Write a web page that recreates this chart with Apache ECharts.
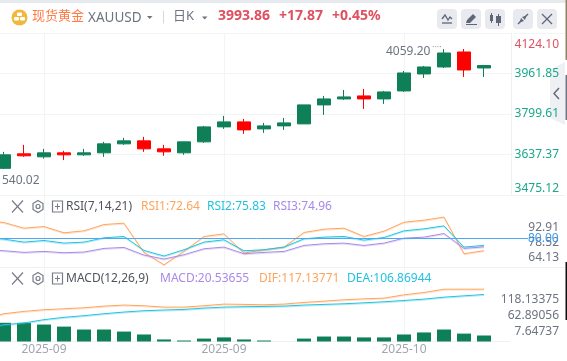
<!DOCTYPE html>
<html><head><meta charset="utf-8">
<style>html,body{margin:0;padding:0;background:#fff;overflow:hidden}#c{width:567px;height:361px}</style>
<script src="https://cdn.jsdelivr.net/npm/echarts@6/dist/echarts.min.js"></script>
</head><body><div id="c"></div>
<script>
// first and last categories are the off-screen bar and the empty right-hand slot
const dates = ['2025-09-03','2025-09-04','2025-09-05','2025-09-08','2025-09-09','2025-09-10','2025-09-11','2025-09-12','2025-09-15','2025-09-16','2025-09-17','2025-09-18','2025-09-19','2025-09-22','2025-09-23','2025-09-24','2025-09-25','2025-09-26','2025-09-29','2025-09-30','2025-10-01','2025-10-02','2025-10-03','2025-10-06','2025-10-07','2025-10-08','2025-10-09'];
const tickIndexes = [3, 12, 21];
// open, close, low, high
const candles = [
 ['-','-','-','-'],
 [3582,3636,3579,3648],[3640,3632,3628,3676],[3628,3644,3621,3660],[3644,3636,3615,3652],[3636,3644,3632,3660],
 [3644,3680,3628,3688],[3680,3692,3676,3704],[3692,3660,3648,3708],[3660,3648,3632,3676],[3644,3688,3636,3688],
 [3688,3748,3684,3752],[3748,3768,3740,3792],[3768,3736,3720,3780],[3740,3752,3724,3764],[3752,3764,3736,3784],
 [3760,3836,3760,3836],[3836,3860,3796,3872],[3860,3868,3856,3896],[3872,3860,3820,3900],[3860,3888,3840,3892],
 [3892,3964,3888,3972],[3960,3988,3944,3992],[3988,4044,3984,4060],[4048,3976,3948,4060],[3984,3994,3948,3996]
];
const rsi1 = [90.8,89.6,86.2,87.2,83.4,84.6,88.4,89.2,71.6,64.13,72.2,81.2,82.8,71.2,73.2,74.8,83.6,85.6,86.2,81.2,84.4,89.8,91,92.91,70.8,72.64];
const rsi2 = [80.5,79.6,77.8,78.8,77.2,77.8,80.4,81.2,72.8,69.4,73.2,77.8,79.2,72.6,73.2,74.8,79.8,80.8,81.2,79,80.6,84.6,85.8,87.6,74.8,75.83];
const rsi3 = [73,72.6,71.6,72.2,71.4,71.8,74,74.6,70,67.6,70.2,73.8,74.8,70.8,71.6,72.2,75.8,76.8,77.2,75.8,77.2,80.2,80.8,83,74,74.96];
const dif = [59.4,69.7,74.2,77.4,79.3,81.2,84.4,86.4,85.1,82.5,82.5,85.1,88.3,87.7,87,88.3,91.5,94,96.6,98.5,99.8,106.2,110.7,117.1,117.1,117.14];
const dea = [42,48.5,51.8,58.2,62.7,65.9,69.7,72.9,75.5,76.8,78,80.6,82.5,83.2,83.8,84.4,86.4,87.7,88.9,90.8,92.8,95.3,97.9,101.7,104.3,106.87];
const macd = ['-',64,64,58,51,41,41,34,24,7,3.4,10,14,7,3.4,0,10,17,17,14,14,24,31,41,27,20.54];
const priceTicks = [3475.12,3637.37,3799.61,3961.85,4124.10];
const rsiTicks = [64.13,78.52,92.91];
const macdTicks = [7.64737,62.89056,118.13375];
const rsiLevel = 80;

const FONT = '"Noto Sans","Noto Sans CJK SC",sans-serif';
const GREEN='#0f7f57', RED='#ff0000', ORANGE='#ffa45c', CYAN='#22c3df', PURPLE='#a98ae8', LINE='#f3f4f6', SEP='#eef0f3', GREY='#6d7380', ICON='#5f6675';

const grids = [
 {left:-26,width:540,top:33,height:162,outerBoundsMode:'none'},
 {left:-26,width:540,top:195,height:72,outerBoundsMode:'none'},
 {left:-26,width:540,top:267,height:74.5,outerBoundsMode:'none'}
];
function xAx(gridIndex,labels){return {
 type:'category',gridIndex,data:dates,boundaryGap:true,
 axisLine:{show:false},axisTick:{show:false},
 axisLabel:{show:labels,interval:(i)=>tickIndexes.includes(i),formatter:v=>v.slice(0,7),color:'#a1a6b3',fontSize:12,fontFamily:FONT,margin:2},
 splitLine:{show:true,alignWithLabel:true,interval:(i)=>tickIndexes.includes(i),lineStyle:{color:LINE,width:1}}
};}
function hiddenY(gridIndex,min,max){return {type:'value',gridIndex,min,max,show:false,position:'right',splitLine:{show:false}};}
function labelY(gridIndex,min,max,ticks,color,extra){return Object.assign({
 type:'value',gridIndex,min,max,position:'right',scale:true,
 axisLine:{show:false},axisTick:{show:false,customValues:ticks},
 axisLabel:{customValues:ticks,align:'right',margin:45,color,fontSize:12,fontFamily:FONT,
   formatter:v=>{const s=ticks.find(t=>Math.abs(t-v)<1e-6);return (ticks===macdTicks)?s.toFixed(5):s.toFixed(2);}},
 splitLine:{show:false}
},extra||{});}

function T(text,x,y,fill,size,weight,align){return {type:'text',z:10,style:{text,x,y,fill,font:(weight||'normal')+' '+size+'px '+FONT,textAlign:align||'left',textVerticalAlign:'middle'}};}
function L(x1,y1,x2,y2,stroke,w,z){return {type:'line',z:z==null?10:z,shape:{x1,y1,x2,y2},style:{stroke,lineWidth:w||1}};}
function R(x,y,width,height,fill,r,z){return {type:'rect',z:z==null?10:z,shape:{x,y,width,height,r:r||0},style:{fill}};}
function PG(points,fill,z){return {type:'polygon',z:z==null?10:z,shape:{points},style:{fill}};}
function PL(points,stroke,w){return {type:'polyline',z:11,shape:{points},style:{stroke,lineWidth:w||1,fill:'none'}};}
function rowIcons(y){const s='#777c88';return [
 L(12,y-6,23,y+6,s,1.2),L(23,y-6,12,y+6,s,1.2),
 {type:'polygon',z:10,shape:{points:[[38,y-6],[43,y-3],[43,y+3],[38,y+6],[33,y+3],[33,y-3]]},style:{stroke:s,fill:'none',lineWidth:1.2}},
 {type:'circle',z:10,shape:{cx:38,cy:y,r:2},style:{stroke:s,fill:'none',lineWidth:1.2}},
 {type:'rect',z:10,shape:{x:52.5,y:y-5.5,width:10,height:11},style:{stroke:s,fill:'none',lineWidth:1.2}},
 L(55,y,60,y,s,1),L(57.5,y-3,57.5,y+3,s,1)
];}
const gfx = [
 R(0,0,567,3,'#e6e9ee'),
 L(0,33.5,565,33.5,LINE,1,0),
 L(0,195.5,565,195.5,SEP,1,0),L(0,267.5,565,267.5,SEP,1,0),L(0,341.5,510,341.5,SEP,1,0),
 R(511.5,33,3,162,'#ffffff',0,1),
 L(511.5,33,511.5,195,SEP,1,1),
 L(514,238.5,528,238.5,'#4aa8f5',1,3),
 // header
 {type:'circle',z:10,shape:{cx:19.5,cy:17.5,r:8},style:{fill:'#f0b93c'}},
 R(17,12.5,5,3.5,'#fff',1),R(14,17,5,3.5,'#fff',1),R(20,17,5,3.5,'#fff',1),
 T('现货黄金',32,16.5,'#ff7a45',13),
 T('XAUUSD',88,18,GREY,13.5),
 PG([[147,16],[152.5,16],[149.7,19]],GREY),
 L(163.5,11,163.5,23.5,'#d5d8de'),
 T('日K',173,16,GREY,13),
 PG([[202,16.5],[207.5,16.5],[204.7,19.5]],GREY),
 T('3993.86',218,16.5,'#df5060',14,'bold'),
 T('+17.87',279,16.5,'#df5060',14,'bold'),
 T('+0.45%',332,16.5,'#df5060',14,'bold'),
 // toolbar
 R(437,9,20,20,'#e8eaf0',4),R(461,9,20,20,'#e8eaf0',4),R(485,9,20,20,'#e8eaf0',4),R(513,9,20,20,'#e8eaf0',4),R(537,9,20,20,'#e8eaf0',4),
 PL([[442,19],[445,15],[448,20],[450,17],[452,19]],ICON,1.3),L(442,23,452,23,ICON,1.3),
 PG([[466,23],[467,20],[473,14],[476,17],[470,23]],ICON),L(466,24.5,477,24.5,ICON,1),
 L(491.5,13,491.5,23,ICON,1),R(490,15,3,6,ICON),L(498.5,14,498.5,26,ICON,1),R(496,16,5,7,ICON),
 L(518,24,522,20,ICON,1.4),PG([[521,18],[524,21],[519.5,22.5]],ICON),L(528,14,524,18,ICON,1.4),PG([[525,20],[522,17],[526.5,15.5]],ICON),
 L(542,14,552,24,ICON,1.2),L(552,14,542,24,ICON,1.2),
 // side collapse tab, behind the axis labels
 PG([[565,62],[550,70],[550,118],[565,125]],'#eef0f4',-1),
 PL([[559,88],[554,93.5],[559,99]],ICON,1.4),
 // window edge
 R(565.5,0,1.5,60,'#8f8468'),R(565.5,75,1.5,45,'#6e7480'),R(565.5,262,1.5,58,'#111111'),
 // annotations
 T('4059.20',386,51.5,GREY,12),
 T('····',432,47,'#9aa0ad',9),
 T('540.02',2,180.5,GREY,12),
 // indicator rows
 ...rowIcons(206.5),...rowIcons(278.5),
 T('RSI(7,14,21)',66,207,'#50545e',12),
 T('RSI1:72.64',141,207,ORANGE,12),T('RSI2:75.83',207,207,CYAN,12),T('RSI3:74.96',273,207,PURPLE,12),
 T('MACD(12,26,9)',66,279,'#50545e',12),
 T('MACD:20.53655',160,279,PURPLE,12),T('DIF:117.13771',259,279,ORANGE,12),T('DEA:106.86944',347,279,CYAN,12)
];
function lineS(name,data,color,xi,yi,extra){return Object.assign({name,type:'line',data,xAxisIndex:xi,yAxisIndex:yi,symbol:'none',smooth:false,lineStyle:{color,width:1,shadowColor:color+'55',shadowOffsetY:1,shadowBlur:0},itemStyle:{color},animation:false,clip:false},extra||{});}

const chart = echarts.init(document.getElementById('c'),null,{renderer:'canvas'});
chart.setOption({
 animation:false,backgroundColor:'#fff',textStyle:{fontFamily:FONT},
 grid:grids,
 xAxis:[xAx(0,false),xAx(1,false),xAx(2,true)],
 yAxis:[
  labelY(0,3475.12,4124.10,priceTicks,'#1aa78a',{
    splitLine:{show:true,lineStyle:{color:LINE,width:1}},
    axisLabel:{customValues:priceTicks,align:'right',margin:45,fontSize:12,fontFamily:FONT,
      color:'#1aa78a',
      formatter:v=>v>4100?'{top|'+Number(v).toFixed(2)+'}':Number(v).toFixed(2),
      rich:{top:{color:'#df5060',fontSize:12,fontFamily:FONT,padding:[6,0,0,0]}},
      verticalAlignMinLabel:'bottom',verticalAlignMaxLabel:'top'}}),
  hiddenY(1,62.8,106.2),
  labelY(1,55.5,124.6,rsiTicks,'#6d7380'),
  hiddenY(2,16,160),
  hiddenY(2,0,255),
  labelY(2,-27,228,macdTicks,'#6d7380')
 ],
 series:[
  {name:'K',type:'candlestick',xAxisIndex:0,yAxisIndex:0,data:candles,barWidth:13,clip:true,
   itemStyle:{color:GREEN,color0:RED,borderColor:GREEN,borderColor0:RED,borderWidth:1}},
  lineS('RSI1',rsi1,ORANGE,1,1,{markLine:{silent:true,symbol:'none',animation:false,
     lineStyle:{color:'#4aa8f5',width:1,type:'solid'},
     label:{show:true,position:'end',distance:14,formatter:()=>rsiLevel.toFixed(2),color:'#3a9df0',fontSize:12,fontFamily:FONT},
     data:[{yAxis:rsiLevel}]}}),
  lineS('RSI2',rsi2,CYAN,1,1),
  lineS('RSI3',rsi3,PURPLE,1,1),
  {name:'MACD',type:'bar',xAxisIndex:2,yAxisIndex:4,data:macd,barWidth:14,itemStyle:{color:GREEN},animation:false},
  lineS('DIF',dif,ORANGE,2,3),
  lineS('DEA',dea,CYAN,2,3)
 ],
 graphic:{elements:gfx}
});
</script></body></html>
